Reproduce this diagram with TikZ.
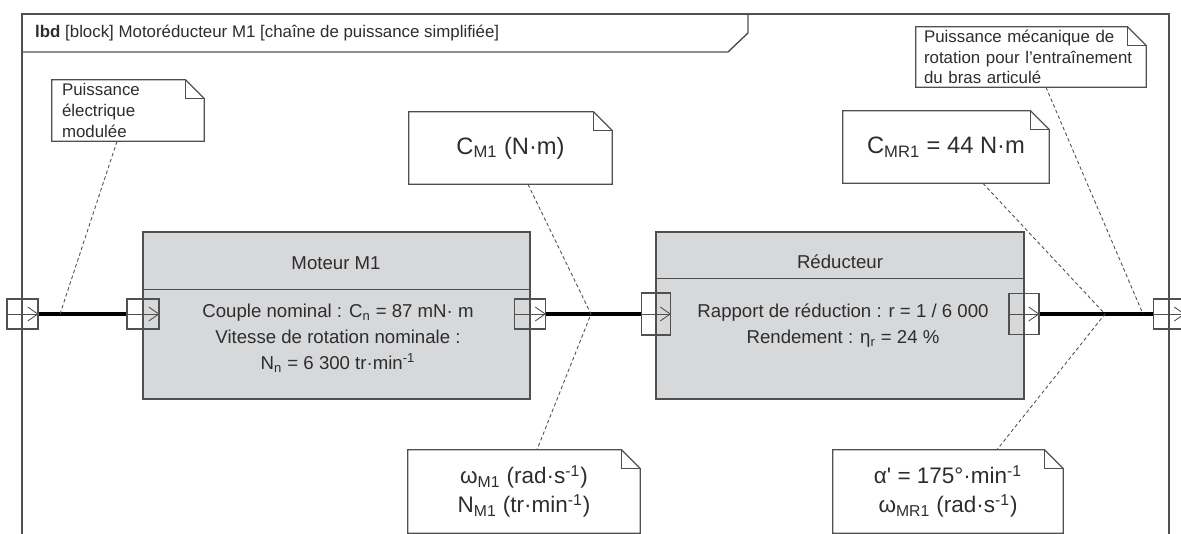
\documentclass[tikz,border=0pt]{standalone}
\usepackage{fontspec}
\setmainfont{Liberation Sans}
\usetikzlibrary{positioning,calc,arrows.meta}
\definecolor{linegray}{RGB}{80,80,80}
\definecolor{blockfill}{RGB}{215,216,218}
\definecolor{textgray}{RGB}{45,45,45}

\begin{document}
\begin{tikzpicture}[x=0.02cm, y=-0.02cm, text=textgray]
    \tikzstyle{frame} = [draw=linegray, line width=0.8pt]
    \tikzstyle{block} = [rectangle, draw=linegray, fill=blockfill, line width=0.8pt, minimum height=3.34cm]
    \tikzstyle{blocktitle} = [font=\fontsize{10.6}{12}\selectfont]
    \tikzstyle{blocktext} = [align=center, font=\fontsize{10.6}{14.8}\selectfont]
    \tikzstyle{port} = [rectangle, draw=linegray, line width=0.6pt, minimum width=0.62cm, minimum height=0.6cm, inner sep=0pt]
    \tikzstyle{flow} = [draw=black, line width=2.7pt]
    \tikzstyle{portarrow} = [draw=linegray, line width=0.5pt, -{Straight Barb[length=2mm, width=2.8mm]}]
    \tikzstyle{dashline} = [draw=linegray, line width=0.5pt, dash pattern=on 2pt off 1.5pt]
    \tikzstyle{note} = [rectangle, inner sep=0pt, append after command={\pgfextra{
        \draw[line width=0.7pt, draw=linegray] (\tikzlastnode.north west) -- ([xshift=-0.38cm]\tikzlastnode.north east) -- ([yshift=-0.38cm]\tikzlastnode.north east) -- (\tikzlastnode.south east) -- (\tikzlastnode.south west) -- cycle;
        \draw[line width=0.5pt, draw=linegray] ([xshift=-0.38cm]\tikzlastnode.north east) |- ([yshift=-0.38cm]\tikzlastnode.north east);}}]
    \tikzstyle{smallnote} = [note, align=left, font=\fontsize{9.6}{11.6}\selectfont]
    \tikzstyle{bignote} = [note, align=center, font=\fontsize{12.8}{16.5}\selectfont]

    \useasboundingbox (0,0) rectangle (1181,534);

    % Frame
    \draw[frame] (22,560) -- (22,14) -- (1169,14) -- (1169,560);
    \draw[frame] (22,52) -- (728,52) -- (748,33) -- (748,14);
    \node[anchor=west, font=\fontsize{9.6}{11}\selectfont] (header) at (29,33) {\textbf{lbd} [block] Motoréducteur M1 [chaîne de puissance simplifiée]};

    % Moteur
    \node[block, minimum width=7.74cm] (mot) at (336.5,315.5) {};
    \draw[frame] ($(mot.north west)+(0,58)$) -- ($(mot.north east)+(0,58)$);
    \node[blocktitle] (mot_title) at (336,263) {Moteur M1};
    \node[blocktext] (mot_text) at (338,338) {Couple nominal : C\textsubscript{n} = 87 mN· m\\Vitesse de rotation nominale :\\N\textsubscript{n} = 6 300 tr·min\textsuperscript{-1}};

    % Reducteur
    \node[block, minimum width=7.36cm] (red) at (840,315.5) {};
    \draw[frame] ($(red.north west)+(0,47)$) -- ($(red.north east)+(0,47)$);
    \node[blocktitle] (red_title) at (840,262) {Réducteur};
    \node[blocktext] (red_text) at (843,326) {Rapport de réduction : r = 1 / 6 000\\Rendement : η\textsubscript{r} = 24 \%};

    % Ports
    \node[port] (pf_in) at (22.5,314) {};
    \node[port, minimum width=0.64cm] (pm_in) at (143,314) {};
    \node[port] (pm_out) at (530,314) {};
    \node[port, minimum width=0.58cm, minimum height=0.84cm] (pr_in) at (656,314) {};
    \node[port, minimum width=0.6cm, minimum height=0.82cm] (pr_out) at (1024,314) {};
    \node[port] (pf_out) at (1169,314) {};

    % Flows
    \draw[flow] (pf_in.east) -- (pm_in.west);
    \draw[flow] (pm_out.east) -- (pr_in.west);
    \draw[flow] (pr_out.east) -- (pf_out.west);

    \draw[portarrow] (pf_in.west) -- (pf_in.east);
    \draw[portarrow] (pm_in.west) -- (pm_in.east);
    \draw[portarrow] (pm_out.west) -- (pm_out.east);
    \draw[portarrow] (pr_in.west) -- (pr_in.east);
    \draw[portarrow] (pr_out.west) -- (pr_out.east);
    \draw[portarrow] (pf_out.west) -- (pf_out.east);

    % Notes
    \node[smallnote, minimum width=3.04cm, minimum height=1.22cm, text width=2.64cm, font=\fontsize{9.6}{12}\selectfont] (n_elec) at (128,110.5) {Puissance\\électrique\\modulée};
    \node[smallnote, minimum width=4.6cm, minimum height=1.2cm, text width=4.28cm] (n_meca) at (1031,57) {Puissance mécanique de\\rotation pour l’entraînement\\du bras articulé};
    \node[bignote, minimum width=4.06cm, minimum height=1.44cm, font=\fontsize{13.5}{15}\selectfont] (n_cm1) at (510.5,148) {C\textsubscript{M1} (N·m)};
    \node[bignote, minimum width=4.12cm, minimum height=1.44cm, font=\fontsize{13.5}{15}\selectfont] (n_cmr1) at (946,147) {C\textsubscript{MR1} = 44 N·m};
    \node[bignote, minimum width=4.64cm, minimum height=1.66cm] (n_wm1) at (524,491.5) {ω\textsubscript{M1} (rad·s\textsuperscript{-1})\\N\textsubscript{M1} (tr·min\textsuperscript{-1})};
    \node[bignote, minimum width=4.6cm, minimum height=1.66cm] (n_alpha) at (948,491.5) {α\textquotesingle{} = 175°·min\textsuperscript{-1}\\ω\textsubscript{MR1} (rad·s\textsuperscript{-1})};

    % Note anchors
    \coordinate (j_in) at (60,314);
    \coordinate (j_m1) at (591,314);
    \coordinate (j_mr1) at (1105,314);
    \coordinate (j_out) at (1143,314);
    \draw[dashline] ($(n_elec.south)+(-11,0)$) -- (j_in);
    \draw[dashline] ($(n_cm1.south)+(17.5,0)$) -- (j_m1) -- ($(n_wm1.north)+(13,0)$);
    \draw[dashline] ($(n_cmr1.south)+(37,0)$) -- (j_mr1) -- ($(n_alpha.north)+(49,0)$);
    \draw[dashline] ($(n_meca.south)+(15,0)$) -- (j_out);
\end{tikzpicture}
\end{document}
